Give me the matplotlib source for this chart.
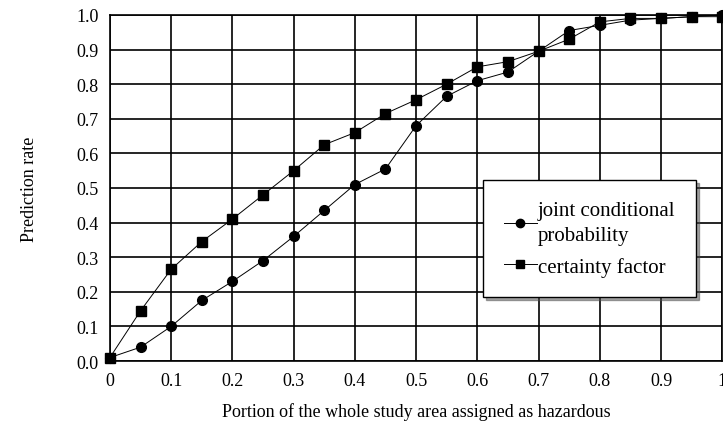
import matplotlib
matplotlib.use("Agg")
import matplotlib.pyplot as plt

plt.rcParams['font.family'] = ['Liberation Serif', 'DejaVu Serif']

# Portion of study area and prediction rates
portion = [0, 0.05, 0.1, 0.15, 0.2, 0.25, 0.3, 0.35, 0.4, 0.45, 0.5,
           0.55, 0.6, 0.65, 0.7, 0.75, 0.8, 0.85, 0.9, 0.95, 1.0]
joint_cond = [0.01, 0.04, 0.10, 0.175, 0.23, 0.29, 0.36, 0.435, 0.51, 0.555, 0.68,
              0.765, 0.81, 0.835, 0.895, 0.955, 0.97, 0.985, 0.99, 0.995, 1.0]
certainty = [0.01, 0.145, 0.265, 0.345, 0.41, 0.48, 0.55, 0.625, 0.66, 0.715, 0.755,
             0.80, 0.85, 0.865, 0.895, 0.93, 0.98, 0.99, 0.99, 0.995, 0.995]

x_ticks = [0, 0.1, 0.2, 0.3, 0.4, 0.5, 0.6, 0.7, 0.8, 0.9, 1.0]
x_labels = ["0", "0.1", "0.2", "0.3", "0.4", "0.5", "0.6", "0.7", "0.8", "0.9", "1"]
y_ticks = [0.0, 0.1, 0.2, 0.3, 0.4, 0.5, 0.6, 0.7, 0.8, 0.9, 1.0]

fig = plt.figure(figsize=(7.23, 4.31), dpi=100)
ax = fig.add_axes([0.152, 0.160, 0.847, 0.803])

ax.plot(portion, joint_cond, color="black", lw=0.7, marker="o", ms=7,
        label="joint conditional\nprobability", clip_on=False, zorder=3)
ax.plot(portion, certainty, color="black", lw=0.7, marker="s", ms=7,
        label="certainty factor", clip_on=False, zorder=3)

ax.set_xlim(0, 1)
ax.set_ylim(0, 1)
ax.set_xticks(x_ticks)
ax.set_xticklabels(x_labels)
ax.set_yticks(y_ticks)
ax.set_yticklabels([f"{v:.1f}" for v in y_ticks])
ax.tick_params(length=0, labelsize=13, pad=8)
ax.grid(color="black", lw=1.2)
for s in ax.spines.values():
    s.set_linewidth(1.2)

ax.set_xlabel("Portion of the whole study area assigned as hazardous", fontsize=13, labelpad=9)
ax.set_ylabel("Prediction rate", fontsize=13, labelpad=28)

leg = ax.legend(loc="upper left", bbox_to_anchor=(0.609, 0.523), fontsize=15,
                handlelength=1.6, handletextpad=0.05, fancybox=False, shadow=True,
                framealpha=1, edgecolor="black", borderpad=1.0, labelspacing=0.55,
                borderaxespad=0)
leg.get_frame().set_linewidth(1.0)
for t in leg.get_texts():
    t.set_linespacing(1.45)
for h in leg.legend_handles:
    h.set_markersize(6)

plt.savefig("out.png", dpi=100)
